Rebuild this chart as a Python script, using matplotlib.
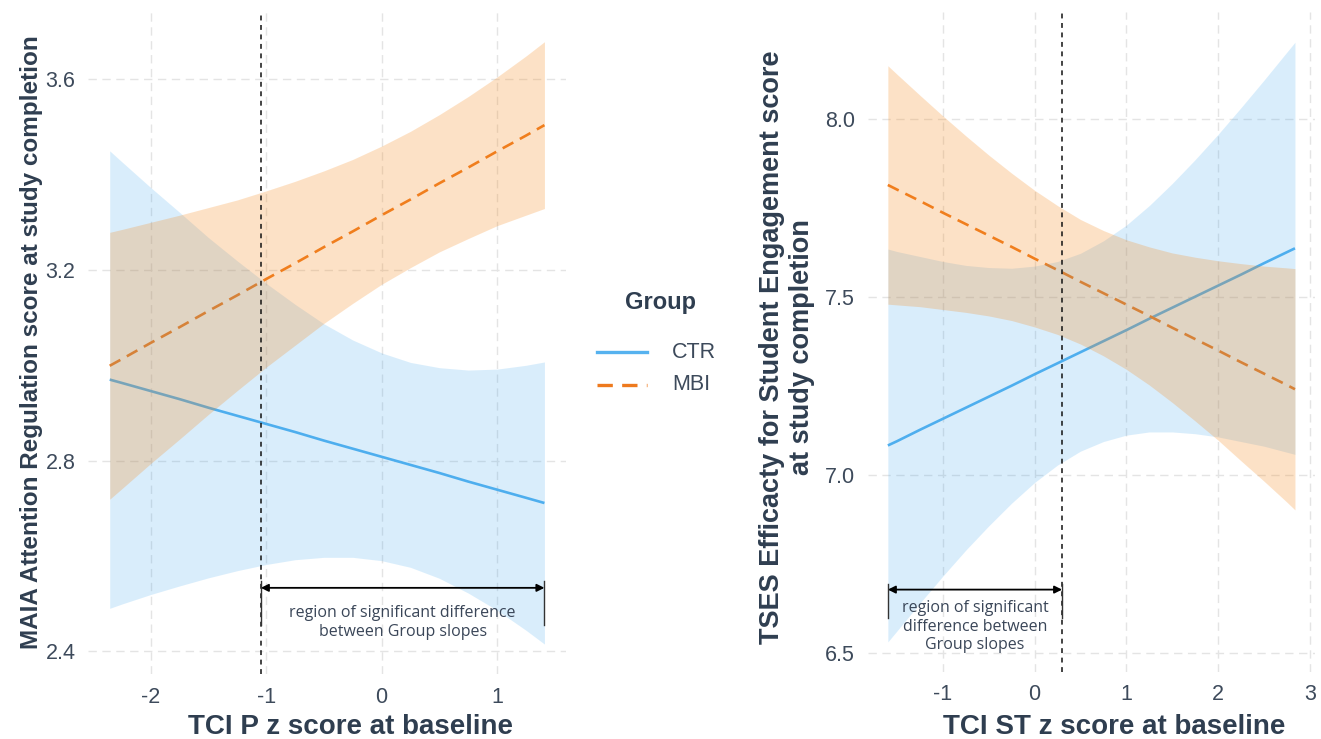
import matplotlib
matplotlib.use("Agg")
import matplotlib.pyplot as plt
from matplotlib.lines import Line2D
import numpy as np

plt.rcParams["font.family"] = ["Liberation Sans", "DejaVu Sans"]

# ---------------- data: left panel (TCI P) ----------------
p_x = [-2.355, -2.25, -2.0, -1.75, -1.5, -1.25, -1.0, -0.75, -0.5, -0.25,
       0.0, 0.25, 0.5, 0.75, 1.0, 1.25, 1.41]
p_ctr_fit = [2.970, 2.963, 2.946, 2.929, 2.911, 2.894, 2.877, 2.860, 2.842,
             2.825, 2.808, 2.791, 2.774, 2.756, 2.739, 2.722, 2.711]
p_ctr_lo = [2.490, 2.499, 2.519, 2.537, 2.554, 2.569, 2.582, 2.592, 2.597,
            2.597, 2.590, 2.576, 2.553, 2.522, 2.486, 2.444, 2.415]
p_ctr_hi = [3.450, 3.427, 3.373, 3.321, 3.268, 3.219, 3.172, 3.128, 3.087,
            3.053, 3.026, 3.006, 2.995, 2.990, 2.992, 3.000, 3.007]
p_mbi_fit = [2.999, 3.013, 3.047, 3.080, 3.114, 3.147, 3.181, 3.214, 3.248,
             3.281, 3.315, 3.348, 3.382, 3.415, 3.449, 3.482, 3.504]
p_mbi_lo = [2.719, 2.741, 2.794, 2.845, 2.897, 2.947, 2.996, 3.042, 3.088,
            3.130, 3.170, 3.205, 3.238, 3.266, 3.293, 3.315, 3.329]
p_mbi_hi = [3.279, 3.285, 3.300, 3.315, 3.331, 3.347, 3.366, 3.386, 3.408,
            3.432, 3.460, 3.491, 3.526, 3.564, 3.605, 3.649, 3.679]
p_jn = -1.046          # Johnson-Neyman boundary
p_xticks = [-2, -1, 0, 1]
p_yticks = [2.4, 2.8, 3.2, 3.6]

# ---------------- data: right panel (TCI ST) ----------------
s_x = [-1.6, -1.5, -1.25, -1.0, -0.75, -0.5, -0.25, 0.0, 0.25, 0.5, 0.75,
       1.0, 1.25, 1.5, 1.75, 2.0, 2.25, 2.5, 2.75, 2.839]
s_ctr_fit = [7.082, 7.094, 7.126, 7.157, 7.188, 7.219, 7.250, 7.282, 7.313,
             7.344, 7.375, 7.406, 7.438, 7.469, 7.500, 7.531, 7.562, 7.594,
             7.625, 7.636]
s_ctr_lo = [6.530, 6.561, 6.639, 6.715, 6.788, 6.856, 6.920, 6.978, 7.027,
            7.066, 7.093, 7.111, 7.120, 7.120, 7.115, 7.106, 7.093, 7.080,
            7.063, 7.057]
s_ctr_hi = [7.634, 7.627, 7.613, 7.599, 7.588, 7.582, 7.580, 7.586, 7.599,
            7.622, 7.657, 7.701, 7.756, 7.818, 7.885, 7.956, 8.031, 8.108,
            8.187, 8.215]
s_mbi_fit = [7.814, 7.801, 7.769, 7.736, 7.704, 7.672, 7.640, 7.607, 7.575,
             7.542, 7.510, 7.478, 7.446, 7.413, 7.381, 7.349, 7.316, 7.284,
             7.252, 7.240]
s_mbi_lo = [7.479, 7.477, 7.472, 7.464, 7.456, 7.446, 7.433, 7.415, 7.394,
            7.367, 7.334, 7.296, 7.252, 7.203, 7.151, 7.097, 7.039, 6.982,
            6.923, 6.901]
s_mbi_hi = [8.149, 8.125, 8.066, 8.008, 7.952, 7.898, 7.847, 7.799, 7.756,
            7.717, 7.686, 7.660, 7.640, 7.623, 7.611, 7.601, 7.593, 7.586,
            7.581, 7.579]
s_jn = 0.300
s_xticks = [-1, 0, 1, 2, 3]
s_yticks = [6.5, 7.0, 7.5, 8.0]

groups = ["CTR", "MBI"]
region_text_p = "region of significant difference\nbetween Group slopes"
region_text_s = "region of significant\ndifference between\nGroup slopes"

# ---------------- style ----------------
CTR_LINE = "#56b2ef"
MBI_LINE = "#ee7a1e"
CTR_FILL = "#2fa0ee"
MBI_FILL = "#f78a1d"
TICK_COL = "#3d4a5b"
TITLE_COL = "#2f3e50"
NOTE_COL = "#3a4658"
GRID_COL = "#e4e4e4"
MBI_DASH = (0, (4.6, 2.8))

fig = plt.figure(figsize=(13.21, 7.39), dpi=100)
ax1 = fig.add_axes([0.0666, 0.0877, 0.3620, 0.8966])
ax2 = fig.add_axes([0.6567, 0.0908, 0.3390, 0.8926])


def expand(lo, hi, f=0.05):
    r = hi - lo
    return lo - f * r, hi + f * r


def panel(ax, x, cfit, clo, chi, mfit, mlo, mhi, jn, xticks, yticks):
    x = np.asarray(x)
    # lines first, ribbons over them
    ax.plot(x, cfit, color=CTR_LINE, lw=1.9, zorder=2, solid_capstyle="butt")
    ax.plot(x, mfit, color=MBI_LINE, lw=1.9, ls=MBI_DASH, zorder=2)
    ax.fill_between(x, clo, chi, color=CTR_FILL, alpha=0.18, lw=0, zorder=3)
    ax.fill_between(x, mlo, mhi, color=MBI_FILL, alpha=0.25, lw=0, zorder=3)
    ax.axvline(jn, color="#111111", lw=1.1, ls=(0, (3.2, 3.0)), zorder=5)

    ax.set_xlim(*expand(x.min(), x.max()))
    ax.set_ylim(*expand(min(min(clo), min(mlo)), max(max(chi), max(mhi))))
    ax.set_xticks(xticks)
    ax.set_yticks(yticks)
    ax.set_xticklabels([f"{t:g}" for t in xticks])
    ax.set_yticklabels([f"{t:.1f}" for t in yticks])
    ax.grid(True, color=GRID_COL, lw=1.0, ls=(0, (6, 4)), zorder=0)
    ax.set_axisbelow(True)
    for s in ax.spines.values():
        s.set_visible(False)
    ax.tick_params(length=0, labelsize=15.5, colors=TICK_COL, pad=9)


panel(ax1, p_x, p_ctr_fit, p_ctr_lo, p_ctr_hi, p_mbi_fit, p_mbi_lo, p_mbi_hi,
      p_jn, p_xticks, p_yticks)
panel(ax2, s_x, s_ctr_fit, s_ctr_lo, s_ctr_hi, s_mbi_fit, s_mbi_lo, s_mbi_hi,
      s_jn, s_xticks, s_yticks)


def region_marker(ax, x0, x1, y, ybar0, ybar1, text, ytext):
    ax.annotate("", xy=(x1, y), xytext=(x0, y),
                arrowprops=dict(arrowstyle="<|-|>", color="black", lw=1.3,
                                mutation_scale=11, shrinkA=0, shrinkB=0),
                zorder=6)
    ax.plot([x0, x0], [ybar0, ybar1], color="#333333", lw=1.0, zorder=6)
    ax.plot([x1, x1], [ybar0, ybar1], color="#333333", lw=1.0, zorder=6)
    ax.text((x0 + x1) / 2, ytext, text, ha="center", va="center",
            fontsize=11.5, color=NOTE_COL, family=["Open Sans", "DejaVu Sans"],
            linespacing=1.2, zorder=6)


region_marker(ax1, p_jn, max(p_x), 2.533, 2.456, 2.547, region_text_p, 2.460)
region_marker(ax2, min(s_x), s_jn, 6.677, 6.596, 6.694, region_text_s, 6.573)

# axis titles
fig.text(0.2657, 0.016, "TCI P z score at baseline", ha="center", va="center",
         fontsize=20, fontweight="bold", color=TITLE_COL)
fig.text(0.8437, 0.016, "TCI ST z score at baseline", ha="center", va="center",
         fontsize=20, fontweight="bold", color=TITLE_COL)
fig.text(0.0242, 0.537, "MAIA Attention Regulation score at study completion",
         ha="center", va="center", rotation=90, fontsize=17.5,
         fontweight="bold", color=TITLE_COL)
fig.text(0.5955, 0.530,
         "TSES Efficacty for Student Engagement score\nat study completion",
         ha="center", va="center", rotation=90, fontsize=19.5,
         fontweight="bold", color=TITLE_COL, linespacing=1.2)

# legend
W, H = 1321.0, 739.0
fig.text(661 / W, 1 - 302 / H, "Group", ha="center", va="center",
         fontsize=17, fontweight="bold", color=TITLE_COL)
legend_styles = [dict(color=CTR_LINE, ls="-"), dict(color=MBI_LINE, ls=MBI_DASH)]
for i, (g, st) in enumerate(zip(groups, legend_styles)):
    yy = 1 - (352 + 33 * i) / H
    fig.add_artist(Line2D([597 / W, 647 / W], [yy, yy], lw=2.4,
                          transform=fig.transFigure, **st))
    fig.text(672 / W, yy, g, ha="left", va="center", fontsize=15.5,
             color=TICK_COL)

fig.savefig("out.png", dpi=100)
